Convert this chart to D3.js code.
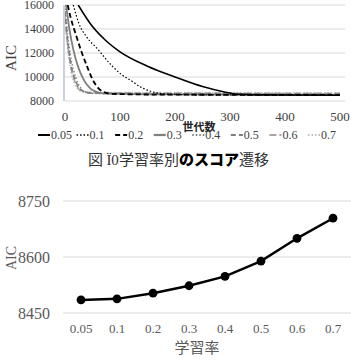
<!DOCTYPE html>
<html>
<head>
<meta charset="utf-8">
<script src="https://cdn.jsdelivr.net/npm/d3@7"></script>
<style>
body { margin: 0; background: #fff; }
svg { display: block; }
</style>
</head>
<body>
<svg id="chart" width="351" height="361"></svg>
<script>
// top chart: AIC by generation, one series per learning rate
var rates = ["0.05", "0.1", "0.2", "0.3", "0.4", "0.5", "0.6", "0.7"];
var genTicks = [0, 100, 200, 300, 400, 500];
var aicTicks = [8000, 10000, 12000, 14000, 16000];

var gen005 = [[24,16000],[50,14200],[75,13000],[100,12100],[150,10900],[200,10000],[250,9200],[290,8750],[320,8550],[400,8500],[500,8480]];
var gen01 = [[15,16000],[25,14500],[40,13300],[60,12300],[80,11200],[100,10300],[120,9700],[140,9100],[160,8750],[180,8600],[220,8520],[500,8482]];
var gen02 = [[5,16000],[10,15000],[20,13500],[30,12100],[40,10900],[50,9800],[60,9100],[70,8750],[85,8600],[150,8540],[500,8497]];
var gen03 = [[2,16000],[8,14000],[15,12300],[25,10700],[35,9700],[45,9100],[55,8800],[70,8630],[150,8560],[500,8518]];
var gen04 = [[0,16000],[5,13500],[10,11800],[20,9900],[30,9000],[40,8700],[60,8620],[200,8570],[500,8542]];
var gen05 = [[0,15500],[5,13000],[10,11300],[20,9600],[30,8900],[40,8680],[60,8640],[200,8600],[500,8584]];
var gen06 = [[0,15000],[5,12600],[10,11000],[20,9400],[30,8850],[50,8700],[200,8660],[500,8645]];
var gen07 = [[0,14500],[5,12300],[10,10700],[20,9200],[30,8800],[50,8730],[200,8710],[500,8698]];
var genSeries = [gen005, gen01, gen02, gen03, gen04, gen05, gen06, gen07];

// bottom chart: final AIC by learning rate
var finalAic = [8485, 8488, 8503, 8523, 8548, 8589, 8650, 8704];
var finalTicks = [8450, 8600, 8750];

var serif = "'Liberation Serif','Times New Roman',serif";
var sans = "'Noto Sans CJK JP','Noto Sans',sans-serif";
var styles = [
	{color: "#000", width: 1.6, dash: null},
	{color: "#000", width: 1.2, dash: "1.5,2"},
	{color: "#000", width: 1.8, dash: "5,3"},
	{color: "#7f7f7f", width: 1.8, dash: null},
	{color: "#7f7f7f", width: 1.4, dash: "1.5,2"},
	{color: "#7f7f7f", width: 1.6, dash: "5,3"},
	{color: "#a6a6a6", width: 1.6, dash: "7,3"},
	{color: "#bfbfbf", width: 1.4, dash: "1.5,2"}
];

var svg = d3.select("#chart");

// ---------- top chart ----------
var x1 = d3.scaleLinear().domain([0, 500]).range([65, 340]);
var y1 = d3.scaleLinear().domain([8000, 16000]).range([101, 5]);

var topChart = svg.append("g");
topChart.append("defs").append("clipPath").attr("id", "clipTop")
	.append("rect").attr("x", 65).attr("y", 5).attr("width", 280).attr("height", 96);

topChart.selectAll("line.grid").data(aicTicks).enter().append("line")
	.attr("x1", 65).attr("x2", 345)
	.attr("y1", function(d){ return y1(d); }).attr("y2", function(d){ return y1(d); })
	.attr("stroke", "#d9d9d9").attr("stroke-width", 1);
topChart.append("line").attr("x1", 64).attr("x2", 64).attr("y1", 5).attr("y2", 101)
	.attr("stroke", "#c9d2e0").attr("stroke-width", 2);

topChart.selectAll("text.ytick").data(aicTicks).enter().append("text")
	.attr("x", 54).attr("y", function(d){ return y1(d) + 4; })
	.attr("text-anchor", "end").style("font-family", serif).style("font-size", "12px")
	.style("fill", "#404040").text(function(d){ return d; });
topChart.selectAll("text.xtick").data(genTicks).enter().append("text")
	.attr("x", function(d){ return x1(d); }).attr("y", 121)
	.attr("text-anchor", "middle").style("font-family", serif).style("font-size", "13px")
	.style("fill", "#404040").text(function(d){ return d; });

topChart.append("text").attr("transform", "translate(16,58) rotate(-90)")
	.attr("text-anchor", "middle").style("font-family", serif).style("font-size", "15px")
	.style("fill", "#404040").text("AIC");
topChart.append("text").attr("x", 199).attr("y", 131)
	.attr("text-anchor", "middle").style("font-family", sans).style("font-size", "11px")
	.style("font-weight", "bold").style("fill", "#222").text("世代数");

var line1 = d3.line()
	.x(function(d){ return x1(d[0]); })
	.y(function(d){ return y1(d[1]); })
	.curve(d3.curveMonotoneX);
var curves = topChart.append("g").attr("clip-path", "url(#clipTop)");
for (var i = genSeries.length - 1; i >= 0; i--) {
	curves.append("path").attr("d", line1(genSeries[i]))
		.attr("fill", "none").attr("stroke", styles[i].color)
		.attr("stroke-width", styles[i].width)
		.attr("stroke-dasharray", styles[i].dash);
}

// legend
var legX = d3.scalePoint().domain(rates).range([38, 308]);
var leg = topChart.selectAll("g.leg").data(rates).enter().append("g")
	.attr("transform", function(d){ return "translate(" + legX(d) + ",135)"; });
leg.append("line").attr("x1", 0).attr("x2", 12).attr("y1", 0).attr("y2", 0)
	.attr("stroke", function(d, i){ return styles[i].color; })
	.attr("stroke-width", function(d, i){ return styles[i].width + 0.4; })
	.attr("stroke-dasharray", function(d, i){ return styles[i].dash; });
leg.append("text").attr("x", 13).attr("y", 4)
	.style("font-family", serif).style("font-size", "12px").style("fill", "#404040")
	.text(function(d){ return d; });

// caption
var cap = svg.append("text").attr("x", 88).attr("y", 165)
	.style("font-family", sans).style("font-size", "15px").style("fill", "#333");
cap.append("tspan").text("図 ");
cap.append("tspan").style("font-family", serif).text("Ï0");
cap.append("tspan").text("学習率別");
cap.append("tspan").style("font-weight", "900").style("fill", "#000").text("のスコア");
cap.append("tspan").text("遷移");

// ---------- bottom chart ----------
var x2 = d3.scalePoint().domain(rates).range([63, 351]).padding(0.5);
var y2 = d3.scaleLinear().domain([8450, 8750]).range([313, 201]);

var bot = svg.append("g");
bot.selectAll("line.grid").data(finalTicks).enter().append("line")
	.attr("x1", 63).attr("x2", 351)
	.attr("y1", function(d){ return y2(d); }).attr("y2", function(d){ return y2(d); })
	.attr("stroke", "#d9d9d9").attr("stroke-width", 1);
bot.selectAll("text.ytick").data(finalTicks).enter().append("text")
	.attr("x", 50).attr("y", function(d){ return y2(d) + 6; })
	.attr("text-anchor", "end").style("font-family", serif).style("font-size", "16px")
	.style("fill", "#595959").text(function(d){ return d; });
bot.selectAll("text.xtick").data(rates).enter().append("text")
	.attr("x", function(d){ return x2(d); }).attr("y", 333)
	.attr("text-anchor", "middle").style("font-family", serif).style("font-size", "13px")
	.style("fill", "#595959").text(function(d){ return d; });
bot.append("text").attr("transform", "translate(16,258) rotate(-90)")
	.attr("text-anchor", "middle").style("font-family", serif).style("font-size", "14px")
	.style("fill", "#595959").text("AIC");
bot.append("text").attr("x", 197).attr("y", 353)
	.attr("text-anchor", "middle").style("font-family", sans).style("font-size", "15px")
	.style("fill", "#595959").text("学習率");

var line2 = d3.line()
	.x(function(d, i){ return x2(rates[i]); })
	.y(function(d){ return y2(d); });
bot.append("path").attr("d", line2(finalAic))
	.attr("fill", "none").attr("stroke", "#000").attr("stroke-width", 2.4);
bot.selectAll("circle").data(finalAic).enter().append("circle")
	.attr("cx", function(d, i){ return x2(rates[i]); })
	.attr("cy", function(d){ return y2(d); })
	.attr("r", 4.4).attr("fill", "#000");
</script>
</body>
</html>
